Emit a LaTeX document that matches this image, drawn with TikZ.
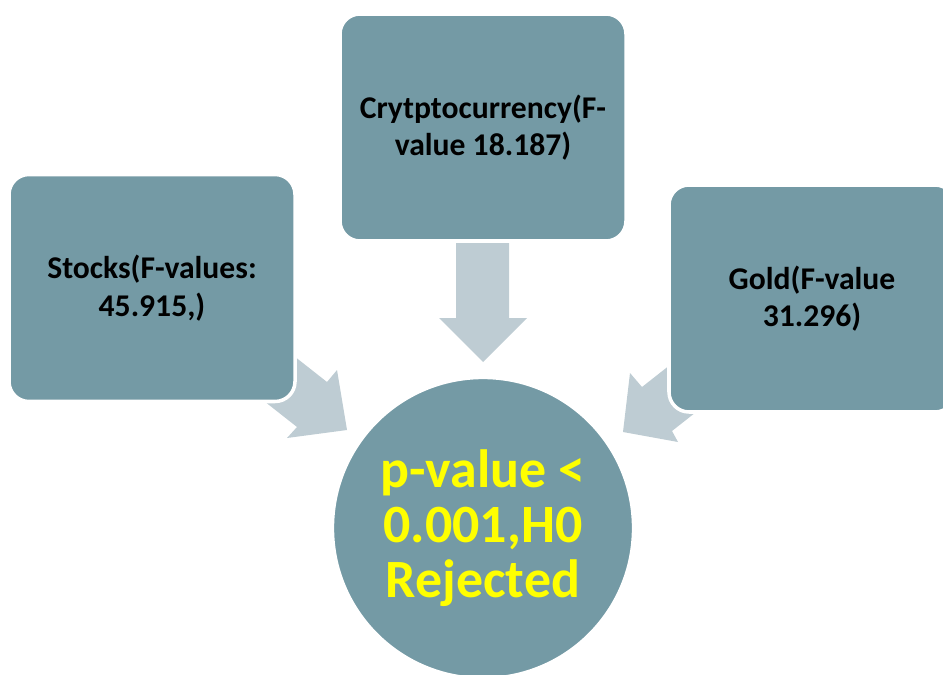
\documentclass[tikz,border=0pt]{standalone}
\usepackage{fontspec}
\setmainfont{Carlito}
\definecolor{boxfill}{RGB}{116,154,165}
\definecolor{arrowfill}{RGB}{190,204,211}
\definecolor{txtyellow}{RGB}{255,255,0}
\begin{document}
\begin{tikzpicture}[x=0.03cm,y=-0.03cm,
  boxnode/.style={rectangle, rounded corners=0.6cm, fill=boxfill, draw=white, line width=3pt,
    minimum width=8.58cm, minimum height=6.81cm, align=center, inner sep=2pt,
    font=\fontsize{27}{32}\selectfont\bfseries, text=black},
  resultnode/.style={circle, fill=boxfill, draw=white, line width=2pt, minimum size=9cm,
    align=center, text=txtyellow, font=\fontsize{46}{47}\selectfont\bfseries},
  blockarrow/.style={fill=arrowfill, draw=none}
]
\useasboundingbox (0,0) rectangle (943,675);
% block arrows (drawn first, their tails run under the boxes)
\fill[blockarrow] (280,345) -- (327,382) -- (337,370) -- (347,430) -- (287,438) -- (297,427) -- (250,390) -- cycle;
\fill[blockarrow] (456,236) -- (509,236) -- (509,318) -- (527,318) -- (483,362) -- (439,318) -- (456,318) -- cycle;
\fill[blockarrow] (689,350) -- (642,387) -- (630,373) -- (623,432) -- (678,442) -- (672,431) -- (719,394) -- cycle;
% boxes
\node[boxnode] (stocks) at (152,288) {Stocks(F-values:\\45.915,)};
\node[boxnode] (crypto) at (483,127.5) {Crytptocurrency(F-\\value 18.187)};
\node[boxnode] (gold) at (812,298.5) {Gold(F-value\\31.296)};
% result
\node[resultnode] (pval) at (483,528) {p-value <\\0.001,H0\\Rejected};
\end{tikzpicture}
\end{document}
